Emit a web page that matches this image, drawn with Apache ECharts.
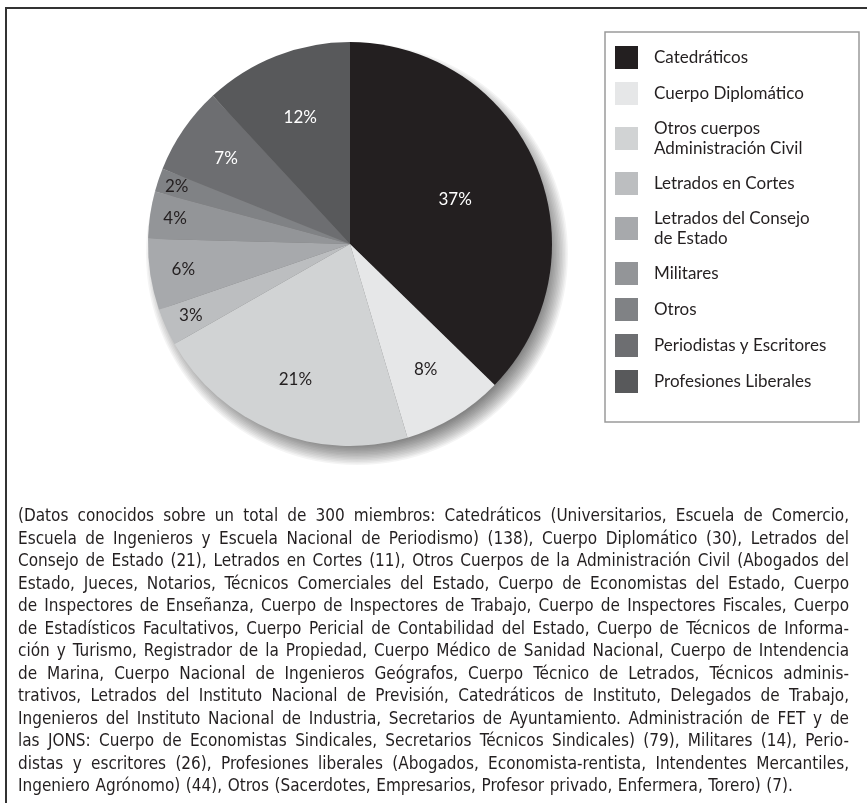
<!DOCTYPE html>
<html>
<head>
<meta charset="utf-8">
<title>Procedencia profesional de los miembros</title>
<script src="https://cdn.jsdelivr.net/npm/echarts@6/dist/echarts.min.js"></script>
<style>
  html, body { margin: 0; padding: 0; background: #ffffff; }
  #chart { width: 867px; height: 803px; }
</style>
</head>
<body>
<div id="chart"></div>
<script>
// Professional groups and number of members in each
const categories = [
  'Catedráticos',
  'Cuerpo Diplomático',
  'Otros cuerpos\nAdministración Civil',
  'Letrados en Cortes',
  'Letrados del Consejo\nde Estado',
  'Militares',
  'Otros',
  'Periodistas y Escritores',
  'Profesiones Liberales'
];
const members = [138, 30, 79, 11, 21, 14, 7, 26, 44];

// Grey ramp for the slices, and label ink for each slice
const sliceColors = ['#231f20', '#e6e7e8', '#d1d3d4', '#bcbec0', '#a7a9ac', '#939598', '#808285', '#6d6e71', '#58595b'];
const labelInk = ['#ffffff', '#231f20', '#231f20', '#231f20', '#231f20', '#231f20', '#231f20', '#ffffff', '#ffffff'];
// Where each percentage sits, as a fraction of the radius
const labelRadius = [0.55, 0.71, 0.71, 0.85, 0.82, 0.86, 0.89, 0.73, 0.66];

// Caption text, one entry per printed line
const captionLines = [
  '(Datos conocidos sobre un total de 300 miembros: Catedráticos (Universitarios, Escuela de Comercio,',
  'Escuela de Ingenieros y Escuela Nacional de Periodismo) (138), Cuerpo Diplomático (30), Letrados del',
  'Consejo de Estado (21), Letrados en Cortes (11), Otros Cuerpos de la Administración Civil (Abogados del',
  'Estado, Jueces, Notarios, Técnicos Comerciales del Estado, Cuerpo de Economistas del Estado, Cuerpo',
  'de Inspectores de Enseñanza, Cuerpo de Inspectores de Trabajo, Cuerpo de Inspectores Fiscales, Cuerpo',
  'de Estadísticos Facultativos, Cuerpo Pericial de Contabilidad del Estado, Cuerpo de Técnicos de Informa-',
  'ción y Turismo, Registrador de la Propiedad, Cuerpo Médico de Sanidad Nacional, Cuerpo de Intendencia',
  'de Marina, Cuerpo Nacional de Ingenieros Geógrafos, Cuerpo Técnico de Letrados, Técnicos adminis-',
  'trativos, Letrados del Instituto Nacional de Previsión, Catedráticos de Instituto, Delegados de Trabajo,',
  'Ingenieros del Instituto Nacional de Industria, Secretarios de Ayuntamiento. Administración de FET y de',
  'las JONS: Cuerpo de Economistas Sindicales, Secretarios Técnicos Sindicales) (79), Militares (14), Perio-',
  'distas y escritores (26), Profesiones liberales (Abogados, Economista-rentista, Intendentes Mercantiles,',
  'Ingeniero Agrónomo) (44), Otros (Sacerdotes, Empresarios, Profesor privado, Enfermera, Torero) (7).'
];

const FONT = 'Lato, "Open Sans", "DejaVu Sans", sans-serif';
const CAPTION_FONT = '"Liberation Sans Narrow", "DejaVu Sans Condensed", "Roboto Condensed", Lato, sans-serif';
const INK = '#231f20';
const CENTER = [350, 244];
const R = 202;

// ---- justified caption layout ----
const measureCtx = document.createElement('canvas').getContext('2d');
function widthAt(text, size) {
  measureCtx.font = size + 'px ' + CAPTION_FONT;
  return measureCtx.measureText(text).width;
}
const CAP_LEFT = 18, CAP_RIGHT = 849, CAP_TOP = 517, CAP_STEP = 22.5;
const capWidth = CAP_RIGHT - CAP_LEFT;
let capSize = 17;
captionLines.forEach(function (line) {
  const w = widthAt(line, 10) / 10;
  capSize = Math.min(capSize, (capWidth * 0.985) / w);
});
capSize = Math.floor(capSize * 2) / 2;

const captionElements = [];
captionLines.forEach(function (line, li) {
  const y = CAP_TOP + li * CAP_STEP;
  const words = line.split(' ');
  const last = li === captionLines.length - 1;
  const widths = words.map(function (w) { return widthAt(w, capSize); });
  const total = widths.reduce(function (a, b) { return a + b; }, 0);
  const gap = last ? widthAt(' ', capSize) * 1.15 : (capWidth - total) / (words.length - 1);
  let x = CAP_LEFT;
  words.forEach(function (word, wi) {
    captionElements.push({
      type: 'text',
      x: x,
      y: y,
      silent: true,
      style: {
        text: word,
        font: capSize + 'px ' + CAPTION_FONT,
        fill: INK,
        align: 'left',
        verticalAlign: 'middle'
      }
    });
    x += widths[wi] + gap;
  });
});

// ---- series ----
const pctFormatter = function (p) { return Math.round(p.percent) + '%'; };

const series = [];

// soft shadow under the pie: many faint stacked discs, offset down-right,
// so the darkness builds up inside and fades smoothly past the rim
const SHADOW_OFFSET = [7, 10];
for (let dr = -12, k = 0; dr <= 10; dr += 1.5, k++) {
  series.push({
    type: 'pie',
    name: 'sombra' + k,
    z: 1,
    silent: true,
    animation: false,
    legendHoverLink: false,
    center: [CENTER[0] + SHADOW_OFFSET[0], CENTER[1] + SHADOW_OFFSET[1]],
    radius: R + dr,
    label: { show: false },
    labelLine: { show: false },
    emphasis: { disabled: true },
    data: [{ value: 1, name: 'sombra' + k, itemStyle: { color: 'rgba(0,0,0,0.042)', borderWidth: 0 } }]
  });
}

// the slices
series.push({
  type: 'pie',
  name: 'Miembros',
  z: 2,
  animation: false,
  center: CENTER,
  radius: R,
  startAngle: 90,
  clockwise: true,
  avoidLabelOverlap: false,
  label: { show: false },
  labelLine: { show: false },
  emphasis: { disabled: true },
  data: categories.map(function (name, i) {
    return { name: name, value: members[i], itemStyle: { color: sliceColors[i], borderWidth: 0 } };
  })
});

// percentage labels, each on its own thin invisible ring
categories.forEach(function (cat, k) {
  const rr = labelRadius[k] * R;
  series.push({
    type: 'pie',
    name: 'etiqueta' + k,
    z: 3,
    silent: true,
    animation: false,
    legendHoverLink: false,
    center: CENTER,
    radius: [rr - 0.5, rr + 0.5],
    startAngle: 90,
    clockwise: true,
    avoidLabelOverlap: false,
    labelLine: { show: false },
    emphasis: { disabled: true },
    data: categories.map(function (name, j) {
      return {
        name: name,
        value: members[j],
        itemStyle: { color: 'rgba(0,0,0,0)' },
        label: {
          show: j === k,
          position: 'inside',
          formatter: pctFormatter,
          color: labelInk[j],
          fontFamily: FONT,
          fontSize: 17
        }
      };
    })
  });
});

const chart = echarts.init(document.getElementById('chart'), null, { renderer: 'canvas' });
chart.setOption({
  backgroundColor: '#ffffff',
  animation: false,
  legend: {
    orient: 'vertical',
    left: 615,
    top: 46,
    padding: 0,
    itemWidth: 23,
    itemHeight: 23,
    itemGap: 13,
    icon: 'rect',
    selectedMode: false,
    textStyle: {
      fontFamily: FONT,
      fontSize: 17,
      lineHeight: 20.5,
      color: INK,
      padding: [0, 0, 0, 11]
    },
    data: categories.map(function (name, i) {
      return { name: name, itemStyle: { color: sliceColors[i], borderWidth: 0 } };
    })
  },
  graphic: [
    // page frame: left and top rules
    { type: 'line', silent: true, shape: { x1: 6, y1: 8, x2: 6, y2: 803 }, style: { stroke: '#333333', lineWidth: 2 } },
    { type: 'line', silent: true, shape: { x1: 5, y1: 8, x2: 867, y2: 8 }, style: { stroke: '#333333', lineWidth: 2 } },
    // legend frame
    { type: 'rect', silent: true, z: -1, shape: { x: 605, y: 32, width: 254, height: 390 }, style: { fill: 'none', stroke: '#9a9a9a', lineWidth: 1.5 } }
  ].concat(captionElements),
  series: series
});
</script>
</body>
</html>
